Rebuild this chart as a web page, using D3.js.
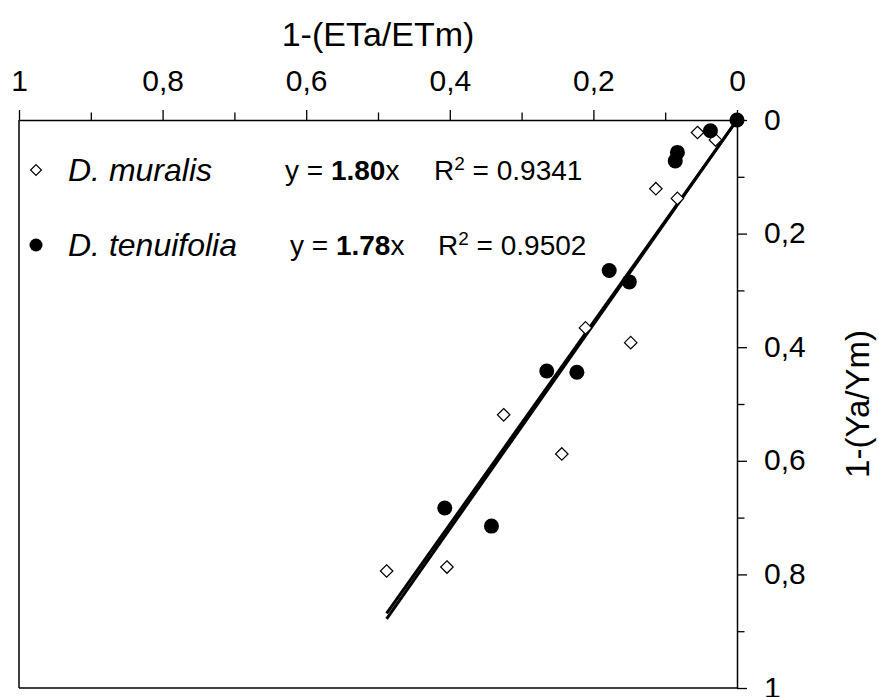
<!DOCTYPE html>
<html>
<head>
<meta charset="utf-8">
<script src="https://cdn.jsdelivr.net/npm/d3@7"></script>
<style>
  body { margin: 0; background: #fff; }
  svg text { font-family: "Liberation Sans", Arial, sans-serif; fill: #000; }
</style>
</head>
<body>
<svg id="chart" width="879" height="697"></svg>
<script>
// species and fitted relations
const species = ["D. muralis", "D. tenuifolia"];
const slopes = [1.80, 1.78];
const r2 = ["0.9341", "0.9502"];

// D. muralis (open diamonds): 1-(ETa/ETm), 1-(Ya/Ym)
const muralisX = [0.055, 0.030, 0.113, 0.083, 0.211, 0.148, 0.325, 0.244, 0.488, 0.404];
const muralisY = [0.022, 0.035, 0.121, 0.138, 0.366, 0.392, 0.519, 0.588, 0.794, 0.787];

// D. tenuifolia (filled circles)
const tenuiX = [0.000, 0.037, 0.083, 0.086, 0.178, 0.150, 0.265, 0.223, 0.407, 0.342];
const tenuiY = [0.000, 0.019, 0.057, 0.072, 0.265, 0.285, 0.442, 0.444, 0.683, 0.715];

const majorTicks = [0, 0.2, 0.4, 0.6, 0.8, 1];
const minorTicks = [0.1, 0.3, 0.5, 0.7, 0.9];

const svg = d3.select("#chart");
const plotL = 19, plotR = 737, plotT = 120, plotB = 688;

// x axis is reversed (1 on the left), y axis grows downwards
const x = d3.scaleLinear().domain([1, 0]).range([plotL, plotR]);
const y = d3.scaleLinear().domain([0, 1]).range([plotT, plotB]);
const fmt = d => String(d).replace(".", ",");

// frame: left and bottom edges
svg.append("line").attr("x1", plotL).attr("x2", plotL).attr("y1", plotT).attr("y2", plotB)
  .attr("stroke", "#000").attr("stroke-width", 1.5);
svg.append("line").attr("x1", plotL).attr("x2", plotR).attr("y1", plotB).attr("y2", plotB)
  .attr("stroke", "#000").attr("stroke-width", 1.5);

// top axis
svg.append("g").attr("transform", `translate(0,${plotT})`)
  .call(d3.axisTop(x).tickValues(minorTicks).tickSize(7.5).tickFormat(""))
  .call(g => g.select(".domain").remove());
const gx = svg.append("g").attr("transform", `translate(0,${plotT})`)
  .call(d3.axisTop(x).tickValues(majorTicks).tickSize(10).tickSizeOuter(0).tickPadding(19).tickFormat(fmt));

// right axis
svg.append("g").attr("transform", `translate(${plotR},0)`)
  .call(d3.axisRight(y).tickValues(minorTicks).tickSize(7.5).tickFormat(""))
  .call(g => g.select(".domain").remove());
const gy = svg.append("g").attr("transform", `translate(${plotR},0)`)
  .call(d3.axisRight(y).tickValues(majorTicks).tickSize(10).tickSizeOuter(0).tickPadding(17).tickFormat(fmt));

svg.selectAll(".tick line").attr("stroke", "#000").attr("stroke-width", 1.3);
svg.selectAll(".domain").attr("stroke", "#000").attr("stroke-width", 1.5);
svg.selectAll("g").attr("font-family", null).attr("font-size", null);
svg.selectAll(".tick text").attr("font-size", 30);
gy.selectAll(".tick text").attr("dy", "0.3em");

// axis titles
svg.append("text").attr("x", (plotL + plotR) / 2).attr("y", 46)
  .attr("text-anchor", "middle").attr("font-size", 34).text("1-(ETa/ETm)");
svg.append("text")
  .attr("transform", `translate(869,${(plotT + plotB) / 2}) rotate(-90)`)
  .attr("text-anchor", "middle").attr("font-size", 33).text("1-(Ya/Ym)");

// regression lines through the origin
const maxX = d3.max(muralisX.concat(tenuiX));
const lineGen = d3.line().x(d => x(d[0])).y(d => y(d[1]));
slopes.forEach(s => {
  svg.append("path")
    .attr("d", lineGen([[0, 0], [maxX, s * maxX]]))
    .attr("fill", "none").attr("stroke", "#000").attr("stroke-width", 3);
});

// points
const diamond = d3.symbol().type(d3.symbolDiamond2);
svg.append("g").selectAll("path")
  .data(d3.zip(muralisX, muralisY))
  .join("path")
  .attr("transform", d => `translate(${x(d[0])},${y(d[1])})`)
  .attr("d", diamond.size(100)())
  .attr("fill", "#fff").attr("stroke", "#000").attr("stroke-width", 1.2);

svg.append("g").selectAll("circle")
  .data(d3.zip(tenuiX, tenuiY))
  .join("circle")
  .attr("cx", d => x(d[0])).attr("cy", d => y(d[1]))
  .attr("r", 7.5).attr("fill", "#000");

// legend
const rowY = [170, 245];
const eqX = [285, 290];
const rX = [434, 438];
species.forEach((name, i) => {
  const cy = rowY[i];
  if (i === 0) {
    svg.append("path").attr("transform", `translate(36,${cy})`)
      .attr("d", diamond.size(75)())
      .attr("fill", "#fff").attr("stroke", "#000").attr("stroke-width", 1.2);
  } else {
    svg.append("circle").attr("cx", 36).attr("cy", cy).attr("r", 6.5).attr("fill", "#000");
  }
  svg.append("text").attr("x", 68).attr("y", cy + 11)
    .attr("font-size", 32).attr("font-style", "italic").text(name);

  const eq = svg.append("text").attr("x", eqX[i]).attr("y", cy + 10).attr("font-size", 28);
  eq.append("tspan").text("y = ");
  eq.append("tspan").attr("font-weight", "bold").text(slopes[i].toFixed(2));
  eq.append("tspan").text("x");

  const rt = svg.append("text").attr("x", rX[i]).attr("y", cy + 10).attr("font-size", 28);
  rt.append("tspan").text("R");
  rt.append("tspan").attr("font-size", 19).attr("dy", -10).text("2");
  rt.append("tspan").attr("dy", 10).text(" = " + r2[i]);
});
</script>
</body>
</html>
